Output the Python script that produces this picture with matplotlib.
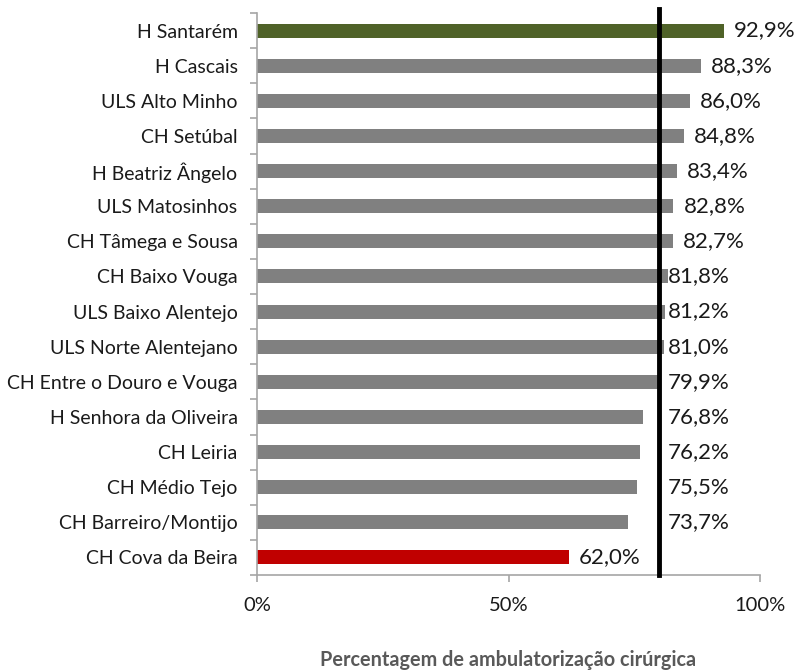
import matplotlib.pyplot as plt
import numpy as np

hospitais = ['H Santarém', 'H Cascais', 'ULS Alto Minho', 'CH Setúbal',
             'H Beatriz Ângelo', 'ULS Matosinhos', 'CH Tâmega e Sousa',
             'CH Baixo Vouga', 'ULS Baixo Alentejo', 'ULS Norte Alentejano',
             'CH Entre o Douro e Vouga', 'H Senhora da Oliveira', 'CH Leiria',
             'CH Médio Tejo', 'CH Barreiro/Montijo', 'CH Cova da Beira']
valores = [92.9, 88.3, 86.0, 84.8, 83.4, 82.8, 82.7, 81.8, 81.2, 81.0,
           79.9, 76.8, 76.2, 75.5, 73.7, 62.0]
referencia = 80.0
xticks = [0, 50, 100]

plt.rcParams['font.family'] = ['Lato', 'DejaVu Sans']

cores = ['#4F6228'] + ['#808080'] * (len(valores) - 2) + ['#C00000']

fig = plt.figure(figsize=(8.01, 6.71), dpi=100)
ax = fig.add_axes([257 / 801, 1 - 575 / 671, 503 / 801, 562 / 671])

y = np.arange(len(valores))[::-1]
ax.barh(y, valores, height=0.4, color=cores)
ax.set_ylim(-0.5, len(valores) - 0.5)
ax.set_xlim(0, 100)

ax.axvline(referencia, ymin=0, ymax=1.008, color='black', lw=3.5, clip_on=False, zorder=5)

for yi, v in zip(y, valores):
    if v + 2 > 84 or v < 70:
        xt = v + 2
    else:
        xt = 81.7
    ax.text(xt, yi, f'{v:.1f}%'.replace('.', ','), va='center', ha='left', fontsize=16, color='#1a1a1a')

ax.set_yticks(y)
ax.set_yticklabels(hospitais, fontsize=14, color='#1a1a1a')
ax.set_yticks(np.arange(len(valores) + 1) - 0.5, minor=True)
ax.tick_params(axis='y', which='major', length=0, pad=14)
ax.tick_params(axis='y', which='minor', length=5, color='#A6A6A6', width=1.2)

ax.set_xticks(xticks)
ax.set_xticklabels([f'{t}%' for t in xticks], fontsize=14.5, color='#1a1a1a')
ax.tick_params(axis='x', length=5, color='#A6A6A6', width=1.2, pad=11)

for s in ['top', 'right']:
    ax.spines[s].set_visible(False)
for s in ['left', 'bottom']:
    ax.spines[s].set_color('#A6A6A6')
    ax.spines[s].set_linewidth(1.2)

fig.text(508 / 801, 1 - 660 / 671, 'Percentagem de ambulatorização cirúrgica',
         ha='center', va='center', fontsize=14.3, fontweight='bold', color='#595959')

fig.savefig('out.png', dpi=100)
